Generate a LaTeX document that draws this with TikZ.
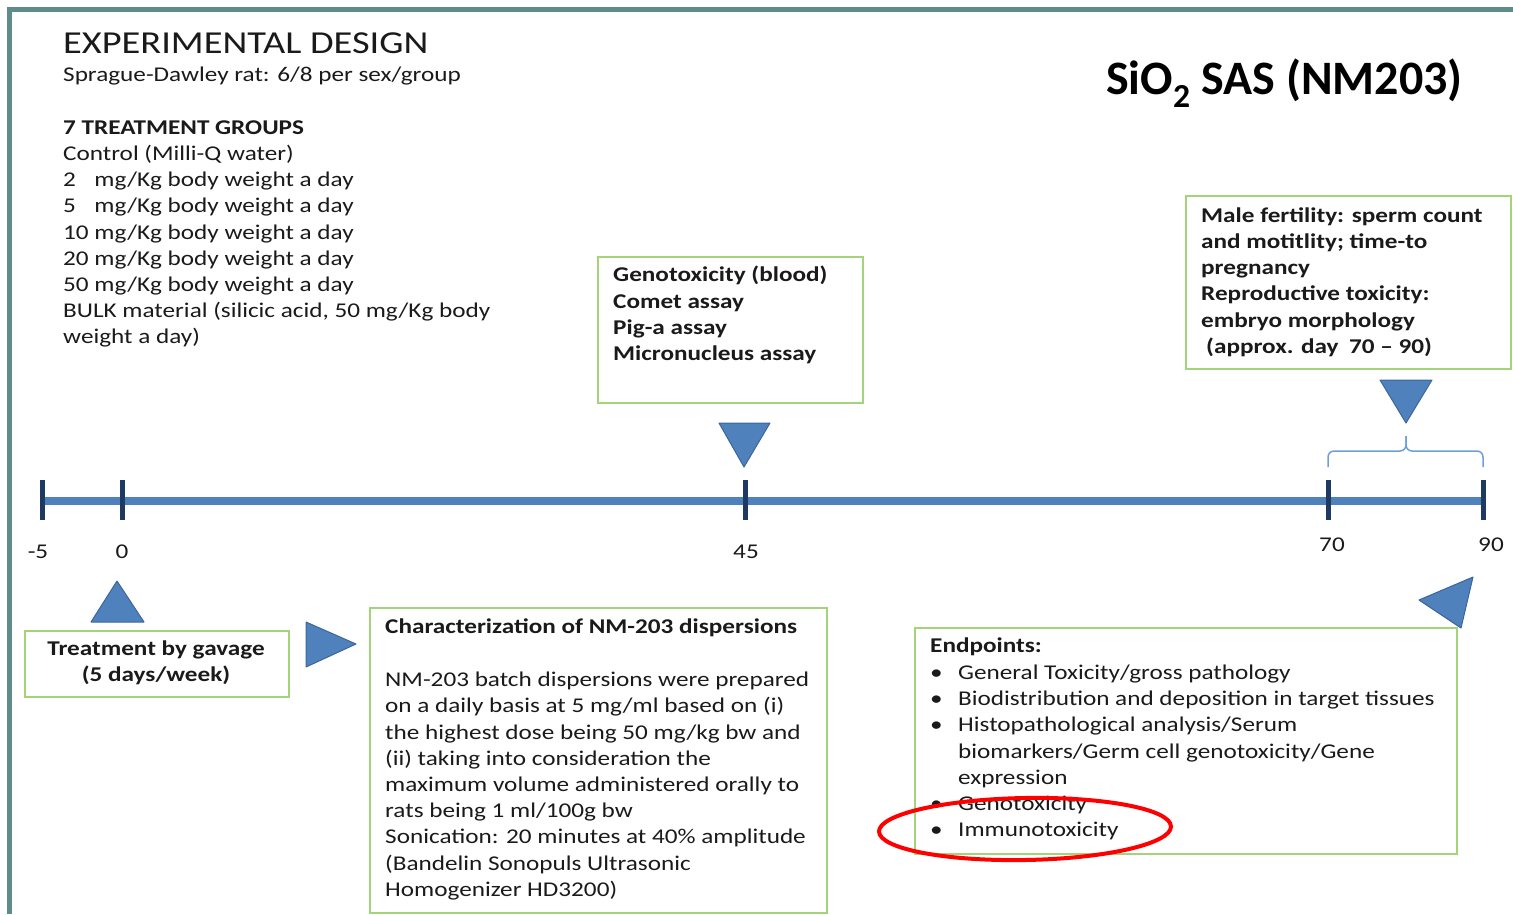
\documentclass[tikz,border=0pt]{standalone}
\usepackage{fontspec}
\setmainfont{Carlito}[FakeStretch=1.2]
\newfontfamily\titlefont{Carlito}
\usepackage{tikz}

\definecolor{framegrey}{HTML}{5F8B8B}
\definecolor{lineblue}{HTML}{4F81BD}
\definecolor{tickblue}{HTML}{1F3A60}
\definecolor{triedge}{HTML}{3C6699}
\definecolor{boxgreen}{HTML}{A3D47A}
\definecolor{braceblue}{HTML}{6F9FD8}
\definecolor{textgrey}{HTML}{1A1A1A}

\begin{document}
\begin{tikzpicture}[x=1pt, y=-1pt,
    txt/.style={anchor=west, inner sep=0pt, align=left, text=textgrey, font=\fontsize{21}{26.2}\selectfont},
    btxt/.style={txt, font=\fontsize{21}{26.2}\selectfont\bfseries},
    greenbox/.style={draw=boxgreen, line width=2pt, anchor=north west, inner sep=0pt},
    marker/.style={fill=lineblue, draw=triedge, line width=1pt, line join=round}]
    \useasboundingbox (0, 0) rectangle (1513, 914);

    \draw[color=framegrey, line width=4.5pt] (9.5, 914) -- (9.5, 9.5) -- (1513, 9.5);

    \node[txt, font=\fontsize{32}{36}\selectfont] (design) at (63, 43) {EXPERIMENTAL DESIGN};
    \node[txt] (rats) at (63, 76) {Sprague-Dawley rat: 6/8 per sex/group};
    \node[txt] (groups) at (63, 234) {\textbf{7 TREATMENT GROUPS}\\
        Control (Milli-Q water)\\
        2\hphantom{0} mg/Kg body weight a day\\
        5\hphantom{0} mg/Kg body weight a day\\
        10 mg/Kg body weight a day\\
        20 mg/Kg body weight a day\\
        50 mg/Kg body weight a day\\
        BULK material (silicic acid, 50 mg/Kg body\\
        weight a day)};

    \node[txt, font=\titlefont\fontsize{48}{50}\selectfont\bfseries, text=black] (compound) at (1106, 83) {SiO\textsubscript{2} SAS (NM203)};

    \node[greenbox, minimum width=265, minimum height=146] (genobox) at (597, 256) {};
    \node[btxt] (geno) at (613, 315) {Genotoxicity (blood)\\ Comet assay\\ Pig-a assay\\ Micronucleus assay};

    \node[greenbox, minimum width=325, minimum height=173] (malebox) at (1185, 195) {};
    \node[btxt] (male) at (1201, 282) {Male fertility: sperm count\\ and motitlity; time-to\\ pregnancy\\
        Reproductive toxicity:\\ embryo morphology\\ \hspace*{5pt}(approx. day\enspace 70 -- 90)};

    \coordinate (start) at (42, 500.5);
    \coordinate (end) at (1483, 500.5);
    \draw[color=lineblue, line width=8pt] (start) -- (end);
    \foreach \x/\day/\lx/\ly [count=\i] in {42/-5/38/552, 122/0/122/552, 745/45/746/552, 1328/70/1332/545, 1483/90/1491/545} {
        \draw[color=tickblue, line width=5pt] (\x, 480) -- (\x, 520);
        \node[txt, anchor=center] (day\i) at (\lx, \ly) {\day};
    }

    \draw[color=braceblue, line width=1.5pt, rounded corners=6pt] (1328, 467) |- (1406, 451) -- (1406, 436);
    \draw[color=braceblue, line width=1.5pt, rounded corners=6pt] (1483, 467) |- (1406, 451) -- (1406, 436);

    \draw[marker] (719, 423) -- (770, 423) -- (744, 467) -- cycle;
    \draw[marker] (1380, 380) -- (1432, 380) -- (1406, 423) -- cycle;
    \draw[marker] (117, 581) -- (144, 622) -- (91, 622) -- cycle;
    \draw[marker] (306, 622) -- (356, 644) -- (306, 667) -- cycle;
    \draw[marker] (1419, 600) -- (1473, 577) -- (1461, 628) -- cycle;

    \node[greenbox, minimum width=264, minimum height=66] (treatbox) at (24, 630) {};
    \node[btxt, anchor=center, align=center] (gavage) at (156, 663) {Treatment by gavage\\(5 days/week)};

    \node[greenbox, minimum width=457, minimum height=305] (charbox) at (369, 607) {};
    \node[btxt] (chartitle) at (385, 628) {Characterization of NM-203 dispersions};
    \node[txt] (chartext) at (385, 786) {NM-203 batch dispersions were prepared\\
        on a daily basis at 5 mg/ml based on (i)\\
        the highest dose being 50 mg/kg bw and\\
        (ii) taking into consideration the\\
        maximum volume administered orally to\\
        rats being 1 ml/100g bw\\
        Sonication: 20 minutes at 40\% amplitude\\
        (Bandelin Sonopuls Ultrasonic\\
        Homogenizer HD3200)};

    \node[greenbox, minimum width=542, minimum height=226] (endbox) at (914, 627) {};
    \node[btxt] (endtitle) at (930, 647) {Endpoints:};
    \node[txt] (endlist) at (930, 752.5) {\makebox[28pt][l]{\textbullet}General Toxicity/gross pathology\\
        \makebox[28pt][l]{\textbullet}Biodistribution and deposition in target tissues\\
        \makebox[28pt][l]{\textbullet}Histopathological analysis/Serum\\
        \hspace*{28pt}biomarkers/Germ cell genotoxicity/Gene\\
        \hspace*{28pt}expression\\
        \makebox[28pt][l]{\textbullet}Genotoxicity\\
        \makebox[28pt][l]{\textbullet}Immunotoxicity};

    \draw[color=red, line width=4pt] (1025, 829) ellipse [x radius=146, y radius=31, rotate=1];
\end{tikzpicture}
\end{document}
